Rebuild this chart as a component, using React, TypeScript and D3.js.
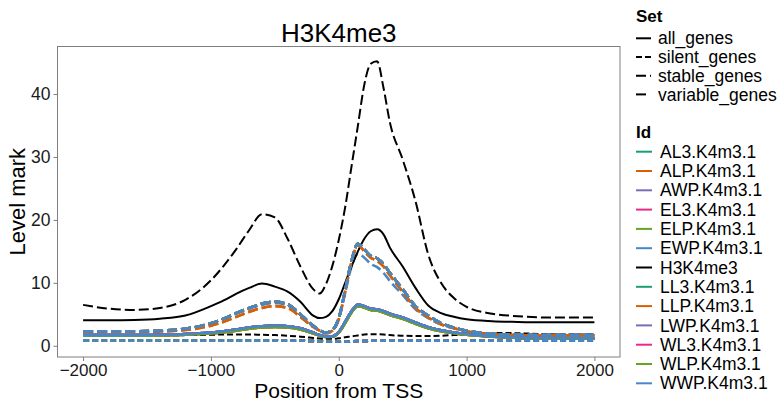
import React, { useEffect, useRef } from 'react';
import * as d3 from 'd3';

// positions (bp from TSS) shared by every profile
const positions = [-2000, -1800, -1600, -1400, -1200, -1000, -900, -800, -700, -600, -500, -400, -300, -200, -150, -100, -50, 0, 50, 100, 150, 200, 250, 300, 350, 400, 500, 600, 700, 800, 900, 1000, 1200, 1400, 1600, 1800, 2000];

const xTicks = [-2000, -1000, 0, 1000, 2000];
const yTicks = [0, 10, 20, 30, 40];

const setNames = ['all_genes', 'silent_genes', 'stable_genes', 'variable_genes'];
const setDash: Record<string, string | null> = {
  all_genes: null,
  silent_genes: '6,3',
  stable_genes: '10,4',
  variable_genes: '10,10',
};

const ids = ['AL3.K4m3.1', 'ALP.K4m3.1', 'AWP.K4m3.1', 'EL3.K4m3.1', 'ELP.K4m3.1', 'EWP.K4m3.1', 'H3K4me3', 'LL3.K4m3.1', 'LLP.K4m3.1', 'LWP.K4m3.1', 'WL3.K4m3.1', 'WLP.K4m3.1', 'WWP.K4m3.1'];
const idColors = ['#1B9E77', '#D95F02', '#7570B3', '#E7298A', '#66A61E', '#4787C7', '#000000', '#1B9E77', '#D95F02', '#7570B3', '#E7298A', '#66A61E', '#4787C7'];

// H3K4me3 (black)
const blackAll = [4.05, 4.05, 4.1, 4.3, 4.8, 6.3, 7.2, 8.3, 9.2, 9.9, 9.4, 8.6, 7.0, 4.8, 4.4, 4.6, 5.5, 7.4, 10.0, 12.6, 15.0, 17.0, 18.2, 18.5, 17.7, 15.6, 12.6, 9.2, 6.4, 5.2, 4.6, 4.2, 3.9, 3.8, 3.75, 3.75, 3.75];
const blackSilent = [1.6, 1.6, 1.6, 1.65, 1.7, 1.75, 1.8, 1.8, 1.8, 1.75, 1.7, 1.6, 1.45, 1.25, 1.15, 1.1, 1.1, 1.2, 1.35, 1.5, 1.65, 1.8, 1.85, 1.85, 1.8, 1.7, 1.6, 1.55, 1.55, 1.6, 1.7, 1.8, 2.05, 2.0, 1.85, 1.8, 1.8];
const blackStable = [6.5, 5.9, 5.7, 6.0, 7.3, 10.4, 12.7, 15.4, 18.4, 20.9, 20.4, 17.0, 12.6, 9.0, 8.3, 9.8, 12.7, 16.8, 22.0, 28.5, 35.0, 41.5, 44.8, 45.2, 41.0, 35.5, 29.6, 23.0, 14.5, 10.0, 7.6, 6.2, 5.1, 4.7, 4.5, 4.5, 4.5];

// sample profiles (coloured)
const stableMain = [2.3, 2.3, 2.3, 2.4, 2.7, 3.6, 4.3, 5.2, 6.0, 6.7, 7.0, 6.6, 5.0, 3.2, 2.5, 2.1, 2.5, 4.4, 8.8, 13.5, 16.2, 15.3, 14.3, 13.9, 13.0, 11.6, 9.0, 6.3, 4.8, 3.6, 2.9, 2.4, 1.9, 1.75, 1.7, 1.7, 1.7];
const stableOrange = [2.2, 2.2, 2.2, 2.3, 2.5, 3.2, 3.8, 4.6, 5.4, 6.0, 6.3, 6.0, 4.6, 3.0, 2.4, 2.0, 2.4, 4.2, 8.6, 13.3, 16.0, 15.0, 14.0, 13.5, 12.6, 11.2, 8.6, 6.0, 4.5, 3.4, 2.8, 2.3, 1.85, 1.7, 1.65, 1.65, 1.65];
const stableBlue = [2.2, 2.2, 2.2, 2.3, 2.6, 3.5, 4.2, 5.1, 5.9, 6.5, 6.8, 6.4, 4.9, 3.1, 2.4, 2.0, 2.4, 4.2, 8.4, 12.6, 14.6, 14.0, 13.0, 12.5, 11.6, 10.3, 8.1, 5.8, 4.4, 3.4, 2.8, 2.3, 1.85, 1.7, 1.65, 1.65, 1.65];
const allMain = [1.7, 1.7, 1.7, 1.75, 1.85, 2.1, 2.3, 2.6, 2.9, 3.1, 3.2, 3.1, 2.8, 2.1, 1.7, 1.45, 1.5, 2.2, 3.8, 5.5, 6.5, 6.3, 5.9, 5.8, 5.5, 5.1, 4.5, 3.7, 2.95, 2.45, 2.1, 1.85, 1.5, 1.3, 1.25, 1.2, 1.2];
const allLow = [1.6, 1.6, 1.6, 1.65, 1.75, 1.95, 2.15, 2.4, 2.7, 2.9, 3.0, 2.9, 2.6, 1.95, 1.6, 1.4, 1.45, 2.1, 3.6, 5.3, 6.3, 6.1, 5.7, 5.6, 5.3, 4.9, 4.3, 3.5, 2.8, 2.3, 2.0, 1.75, 1.45, 1.25, 1.2, 1.15, 1.15];
const silentMain = [0.85, 0.85, 0.85, 0.85, 0.85, 0.85, 0.85, 0.85, 0.85, 0.85, 0.85, 0.8, 0.8, 0.75, 0.7, 0.65, 0.65, 0.65, 0.65, 0.7, 0.75, 0.75, 0.8, 0.8, 0.8, 0.8, 0.8, 0.8, 0.8, 0.8, 0.8, 0.8, 0.8, 0.8, 0.8, 0.8, 0.8];

const profiles: Record<string, Record<string, number[]>> = {
  'AL3.K4m3.1': { all_genes: allMain, silent_genes: silentMain, stable_genes: stableMain },
  'ALP.K4m3.1': { all_genes: allLow, silent_genes: silentMain, stable_genes: stableOrange },
  'AWP.K4m3.1': { all_genes: allMain, silent_genes: silentMain, stable_genes: stableMain },
  'EL3.K4m3.1': { all_genes: allMain, silent_genes: silentMain, stable_genes: stableMain },
  'ELP.K4m3.1': { all_genes: allLow, silent_genes: silentMain, stable_genes: stableMain },
  'EWP.K4m3.1': { all_genes: allMain, silent_genes: silentMain, stable_genes: stableBlue },
  'H3K4me3': { all_genes: blackAll, silent_genes: blackSilent, stable_genes: blackStable },
  'LL3.K4m3.1': { all_genes: allMain, silent_genes: silentMain, stable_genes: stableMain },
  'LLP.K4m3.1': { all_genes: allLow, silent_genes: silentMain, stable_genes: stableOrange },
  'LWP.K4m3.1': { all_genes: allMain, silent_genes: silentMain, stable_genes: stableMain },
  'WL3.K4m3.1': { all_genes: allMain, silent_genes: silentMain, stable_genes: stableMain },
  'WLP.K4m3.1': { all_genes: allLow, silent_genes: silentMain, stable_genes: stableMain },
  'WWP.K4m3.1': { all_genes: allMain, silent_genes: silentMain, stable_genes: stableMain },
};

const FONT = 'Liberation Sans, Arial, Helvetica, sans-serif';

export default function App() {
  const svgRef = useRef<SVGSVGElement>(null);

  useEffect(() => {
    if (!svgRef.current) return;
    const svg = d3.select(svgRef.current);
    svg.selectAll('*').remove();

    const panel = { left: 57.5, right: 620, top: 46.5, bottom: 357 };

    const x = d3.scaleLinear().domain([-2200, 2200]).range([panel.left, panel.right]);
    const y = d3.scaleLinear().domain([-1.78, 47.55]).range([panel.bottom, panel.top]);

    svg.append('rect')
      .attr('width', 784).attr('height', 400).attr('fill', '#fff');

    // Lines, Id-major like ggplot's group order
    const line = d3.line<number>()
      .x((_, i) => x(positions[i]))
      .y(d => y(d))
      .curve(d3.curveMonotoneX);

    const plot = svg.append('g');
    ids.forEach((id, k) => {
      const p = profiles[id];
      setNames.forEach(s => {
        if (!p[s]) return;
        plot.append('path')
          .attr('d', line(p[s]))
          .attr('fill', 'none')
          .attr('stroke', idColors[k])
          .attr('stroke-width', id === 'H3K4me3' ? 2 : 2.6)
          .attr('stroke-dasharray', setDash[s])
          .attr('stroke-linejoin', 'round');
      });
    });

    // Panel border
    svg.append('rect')
      .attr('x', panel.left).attr('y', panel.top)
      .attr('width', panel.right - panel.left).attr('height', panel.bottom - panel.top)
      .attr('fill', 'none').attr('stroke', '#7f7f7f').attr('stroke-width', 1);

    // Axes
    const xAxis = svg.append('g')
      .attr('transform', `translate(0,${panel.bottom})`)
      .call(d3.axisBottom(x).tickValues(xTicks).tickFormat(d3.format('d')).tickSize(4).tickPadding(3));
    xAxis.select('.domain').remove();
    xAxis.selectAll('line').attr('stroke', '#7f7f7f');
    xAxis.selectAll('text')
      .attr('font-family', FONT).attr('font-size', 17).attr('fill', '#1a1a1a');

    const yAxis = svg.append('g')
      .attr('transform', `translate(${panel.left},0)`)
      .call(d3.axisLeft(y).tickValues(yTicks).tickFormat(d3.format('d')).tickSize(4).tickPadding(3));
    yAxis.select('.domain').remove();
    yAxis.selectAll('line').attr('stroke', '#7f7f7f');
    yAxis.selectAll('text')
      .attr('font-family', FONT).attr('font-size', 17.5).attr('fill', '#1a1a1a');

    // Titles
    const cx = (panel.left + panel.right) / 2;
    svg.append('text')
      .attr('x', cx).attr('y', 42).attr('text-anchor', 'middle')
      .attr('font-family', FONT).attr('font-size', 26).text('H3K4me3');
    svg.append('text')
      .attr('x', cx).attr('y', 397.5).attr('text-anchor', 'middle')
      .attr('font-family', FONT).attr('font-size', 21).text('Position from TSS');
    svg.append('text')
      .attr('transform', `translate(25,${(panel.top + panel.bottom) / 2}) rotate(-90)`)
      .attr('text-anchor', 'middle')
      .attr('font-family', FONT).attr('font-size', 22).text('Level mark');

    // Legend: Set
    const lg = svg.append('g').attr('font-family', FONT);
    lg.append('text').attr('x', 636).attr('y', 21.5)
      .attr('font-size', 17).attr('font-weight', 'bold').text('Set');
    setNames.forEach((s, i) => {
      const cy = 38.3 + i * 18.7;
      lg.append('line')
        .attr('x1', 636).attr('x2', 651).attr('y1', cy).attr('y2', cy)
        .attr('stroke', '#000').attr('stroke-width', 2)
        .attr('stroke-dasharray', setDash[s]);
      lg.append('text').attr('x', 658).attr('y', cy).attr('dy', '0.35em')
        .attr('font-size', 17.5).text(s);
    });

    // Legend: Id
    lg.append('text').attr('x', 636).attr('y', 138)
      .attr('font-size', 17).attr('font-weight', 'bold').text('Id');
    ids.forEach((id, i) => {
      const cy = 151.7 + i * 19.3;
      lg.append('line')
        .attr('x1', 636).attr('x2', 652).attr('y1', cy).attr('y2', cy)
        .attr('stroke', idColors[i]).attr('stroke-width', 2);
      lg.append('text').attr('x', 660).attr('y', cy).attr('dy', '0.35em')
        .attr('font-size', 17.5).text(id);
    });
  }, []);

  return (
    <div style={{ position: 'fixed', left: 0, top: 0 }}>
      <svg ref={svgRef} width={784} height={400} style={{ display: 'block' }} />
    </div>
  );
}
